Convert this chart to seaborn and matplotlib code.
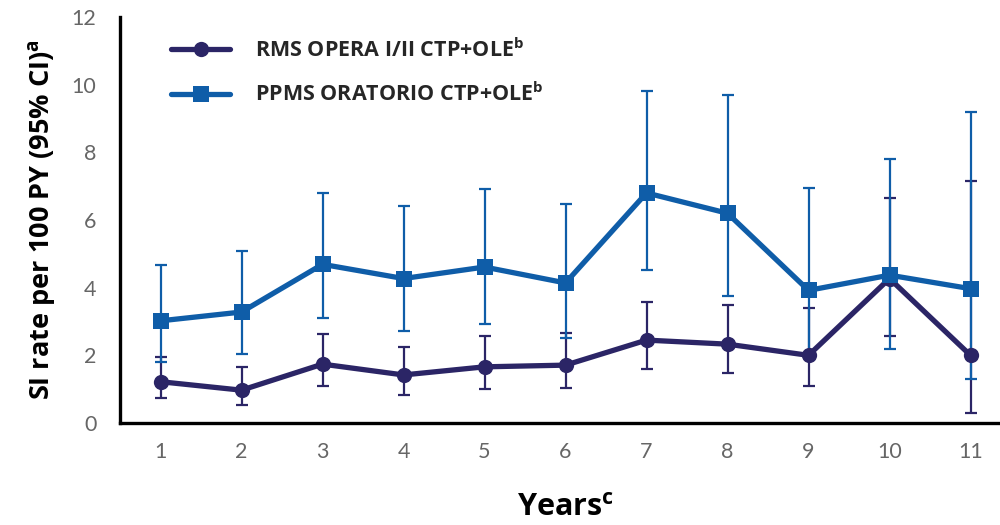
import numpy as np
import pandas as pd
import matplotlib
matplotlib.use('Agg')
import matplotlib.pyplot as plt
import seaborn as sns

# Values
years = list(range(1, 12))
rms_rate = [1.22, 0.97, 1.74, 1.42, 1.66, 1.71, 2.45, 2.33, 2.00, 4.27, 2.00]
rms_low = [0.73, 0.53, 1.10, 0.83, 1.00, 1.04, 1.61, 1.48, 1.09, 2.58, 0.29]
rms_high = [1.94, 1.66, 2.63, 2.25, 2.58, 2.66, 3.59, 3.48, 3.41, 6.66, 7.15]
ppms_rate = [3.02, 3.28, 4.69, 4.27, 4.61, 4.14, 6.80, 6.20, 3.92, 4.37, 3.97]
ppms_low = [1.81, 2.03, 3.11, 2.72, 2.94, 2.52, 4.51, 3.75, 2.05, 2.20, 1.29]
ppms_high = [4.67, 5.07, 6.81, 6.41, 6.93, 6.48, 9.80, 9.69, 6.95, 7.81, 9.19]

rms_label = r'RMS OPERA I/II CTP+OLE$^{\mathregular{b}}$'
ppms_label = r'PPMS ORATORIO CTP+OLE$^{\mathregular{b}}$'
rms_color = '#2B2566'
ppms_color = '#0F5DA8'

df = pd.DataFrame({
    'year': years * 2,
    'rate': rms_rate + ppms_rate,
    'group': [rms_label] * 11 + [ppms_label] * 11,
})

sns.set_style('white')
plt.rcParams['font.family'] = ['Open Sans', 'DejaVu Sans']
plt.rcParams['mathtext.default'] = 'regular'

fig = plt.figure(figsize=(10, 5.25), dpi=100)
ax = fig.add_axes([0.12, 0.1943, 0.891, 0.7733])

# error bars
for rate, lo, hi, col, z in [(rms_rate, rms_low, rms_high, rms_color, 2),
                             (ppms_rate, ppms_low, ppms_high, ppms_color, 3)]:
    rate = np.array(rate)
    yerr = [rate - np.array(lo), np.array(hi) - rate]
    ax.errorbar(years, rate, yerr=yerr, fmt='none', ecolor=col,
                elinewidth=1.6, capsize=4.5, capthick=1.6, zorder=z)

sns.lineplot(data=df, x='year', y='rate', hue='group', style='group',
             palette={rms_label: rms_color, ppms_label: ppms_color},
             markers={rms_label: 'o', ppms_label: 's'}, dashes=False,
             linewidth=3.8, markersize=11, markeredgewidth=0, ax=ax, zorder=4)

ax.set_xlim(0.5, 11.5)
ax.set_ylim(0, 12)
ax.set_yticks(range(0, 13, 2))
ax.set_xticks(years)
ax.set_xticks(np.arange(0.5, 11.6, 1), minor=True)
ax.tick_params(axis='x', which='major', length=0, pad=14)
ax.tick_params(axis='x', which='minor', length=9, width=2.2, color='black', direction='out')
ax.tick_params(axis='y', length=7, width=2.2, color='black', direction='out', pad=10)
ax.tick_params(labelsize=15.5, labelcolor='#666666')
for lab in ax.get_xticklabels() + ax.get_yticklabels():
    lab.set_family(['Lato', 'DejaVu Sans'])

for s in ['top', 'right']:
    ax.spines[s].set_visible(False)
for s in ['left', 'bottom']:
    ax.spines[s].set_linewidth(2.4)
    ax.spines[s].set_color('black')

ax.set_ylabel(r'SI rate per 100 PY (95% CI)$^{\mathregular{a}}$', fontsize=19.5,
              fontweight='bold', color='black', labelpad=10)
ax.set_xlabel(r'Years$^{\mathregular{c}}$', fontsize=22, fontweight='bold',
              color='black', labelpad=22)

ax.legend(loc='upper left', bbox_to_anchor=(0.036, 0.995), frameon=False,
          title=None, prop={'weight': 'bold', 'size': 15.5},
          handlelength=2.7, handletextpad=1.2, labelspacing=0.95)

fig.savefig('out.png', dpi=100)
